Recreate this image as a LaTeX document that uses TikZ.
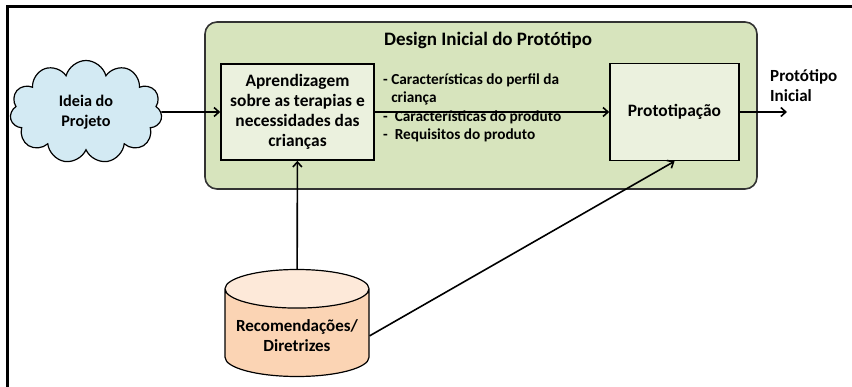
\documentclass[tikz,border=0pt]{standalone}
\usepackage{fontspec}
\setmainfont{Carlito}
\usetikzlibrary{shapes.symbols, shapes.geometric, arrows.meta}

\definecolor{verdefundo}{HTML}{D7E4BD}
\definecolor{verdecaixa}{HTML}{EBF1DE}
\definecolor{azulnuvem}{HTML}{D3EAF3}
\definecolor{pessego}{HTML}{FBD4B4}
\definecolor{pessegoclaro}{HTML}{FDE9D9}

\tikzset{
	seta/.style={line width=1.6pt, -{Straight Barb[length=5pt,width=9pt,line width=1.6pt]}},
	caixa/.style={draw, line width=1.6pt, fill=verdecaixa, font=\fontsize{17.4}{19.8}\bfseries\selectfont, align=center},
}

\begin{document}
\begin{tikzpicture}[x=1pt,y=-1pt]
	\useasboundingbox (0,0) rectangle (852,387);
	\draw[line width=3pt] (7,387) -- (7,7) -- (852,7);
	% bloco do design inicial
	\node (design) [draw=black!80, line width=1.6pt, rounded corners=12pt, fill=verdefundo,
		minimum width=552pt, minimum height=167pt] at (481,105.5) {};
	\node (titulo) at (488,40) {\fontsize{19}{22}\bfseries\selectfont Design Inicial do Protótipo};
	\node (ideia) [cloud, cloud puffs=11, aspect=1.5, draw, line width=1.2pt, fill=azulnuvem,
		minimum width=152pt, minimum height=103pt, align=center,
		font=\fontsize{16.2}{20}\bfseries\selectfont] at (86,112) {Ideia do\\Projeto};
	\node (aprend) [caixa, minimum width=153pt, minimum height=96pt] at (297.5,112)
		{Aprendizagem\\sobre as terapias e\\necessidades das\\crianças};
	\node (prototip) [caixa, minimum width=129pt, minimum height=97pt] at (674.5,112) {Prototipação};
	\node (itens) [anchor=north west, align=left, inner sep=0pt,
		font=\fontsize{15.3}{18.5}\bfseries\selectfont] at (383,73.5)
		{- Características do perfil da\\\phantom{- }criança\\-\ \ Características do produto\\-\ \ Requisitos do produto};
	\node (recom) [cylinder, shape border rotate=90, aspect=0.3, draw, line width=1.2pt,
		cylinder uses custom fill, cylinder body fill=pessego, cylinder end fill=pessegoclaro,
		minimum width=144pt, minimum height=107pt, align=center, anchor=shape center,
		font=\fontsize{17}{20}\bfseries\selectfont] at (297,323) {Recomendações/\\Diretrizes};
	\node (final) [anchor=north west, align=left, inner sep=0pt,
		font=\fontsize{17}{20}\bfseries\selectfont] at (770,69) {Protótipo\\Inicial};
	\coordinate (saida) at (787,112);
	% conexoes
	\draw[seta] (ideia) -- (aprend);
	\draw[seta] (aprend) -- (prototip);
	\draw[seta] (prototip) -- (saida);
	\draw[seta] (recom) -- (aprend);
	\draw[seta] (recom.east) -- (prototip.south);
\end{tikzpicture}
\end{document}
